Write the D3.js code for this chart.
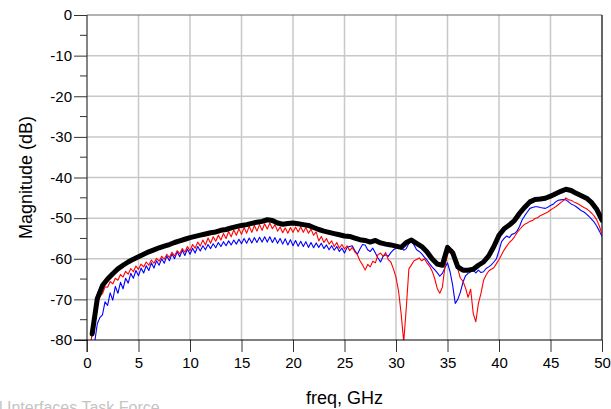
<!DOCTYPE html>
<html>
<head>
<meta charset="utf-8">
<script src="https://cdn.jsdelivr.net/npm/d3@7"></script>
<style>
  html, body { margin: 0; padding: 0; background: #fff; }
  svg { display: block; font-family: "Liberation Sans", Arial, sans-serif; }
</style>
</head>
<body>
<svg id="chart" width="611" height="409"></svg>
<script>
// ---- data ----
const xTicks = [0, 5, 10, 15, 20, 25, 30, 35, 40, 45, 50];
const yTicks = [0, -10, -20, -30, -40, -50, -60, -70, -80];
const yMinorTicks = [-5, -15, -25, -35, -45, -55, -65, -75];
const xLabel = "freq, GHz";
const yLabel = "Magnitude (dB)";
const footer = "l Interfaces Task Force";

// frequency grid of the thin traces (GHz), 0.25 GHz step
const freqFine = d3.range(1, 201).map(i => i * 0.25);
// frequency grid of the thick trace (GHz), 0.5 GHz step
const freqCoarse = d3.range(1, 101).map(i => i * 0.5);

const redValues = [
 -84,-78,-73.8,-71.2,-69.2,-68.6,-66.9,-67.0,-65.6,-66.2,
 -64.8,-65.3,-63.9,-64.5,-63.1,-63.8,-62.4,-63.2,-61.8,-62.6,
 -61.3,-62.0,-60.8,-61.6,-60.3,-61.1,-59.9,-60.6,-59.4,-60.1,
 -58.9,-59.7,-58.4,-59.3,-58.0,-58.8,-57.5,-58.4,-57.0,-58.0,
 -56.5,-57.4,-55.9,-56.9,-55.4,-56.6,-54.9,-56.2,-54.6,-55.7,
 -54.2,-55.4,-53.8,-55.0,-53.3,-54.6,-52.9,-54.2,-52.6,-54.0,
 -52.3,-53.7,-52.0,-53.5,-51.8,-53.2,-51.6,-53.0,-51.4,-52.7,
 -51.2,-52.6,-51.6,-53.2,-52.2,-53.6,-52.4,-53.7,-52.3,-53.5,
 -52.2,-53.4,-52.1,-53.5,-52.3,-53.7,-52.7,-54.2,-53.4,-55.6,
 -54.5,-56.0,-55.0,-56.4,-55.6,-57.0,-56.0,-57.4,-56.5,-57.6,
 -56.8,-58.0,-57.2,-58.3,-59.0,-60.5,-61.5,-62.8,-61.4,-62.0,
 -60.6,-61.0,-59.0,-58.6,-59.4,-58.5,-60.2,-60.8,-62.5,-64.6,
 -68.0,-73.5,-80.5,-72.0,-62.5,-61.5,-60.5,-60.2,-59.8,-60.5,
 -60.0,-61.0,-61.8,-63.0,-64.8,-67.3,-68.5,-67.0,-62.0,-59.0,
 -57.6,-57.8,-59.8,-62.5,-64.8,-65.5,-67.2,-69.5,-67.5,-73.5,
 -75.5,-71.0,-68.5,-65.3,-64.0,-63.0,-62.6,-62.2,-61.2,-60.2,
 -59.0,-57.8,-56.9,-56.0,-55.4,-54.6,-53.6,-52.8,-52.1,-51.5,
 -51.2,-50.8,-50.6,-50.1,-49.9,-49.4,-49.1,-48.8,-48.5,-48.0,
 -47.6,-47.2,-46.7,-46.2,-45.7,-45.0,-45.5,-45.6,-46.0,-46.3,
 -46.6,-47.0,-47.4,-47.7,-48.2,-48.8,-49.5,-50.5,-52.0,-54.0
];

const blueValues = [
 -86,-84,-80.5,-76.0,-74.5,-73.8,-70.6,-71.5,-68.4,-70.2,
 -66.8,-68.5,-65.8,-67.4,-64.8,-66.0,-63.6,-64.8,-62.9,-64.2,
 -62.3,-63.5,-61.7,-62.9,-61.0,-62.3,-60.5,-61.6,-60.0,-61.1,
 -59.3,-60.5,-58.8,-60.0,-58.3,-59.5,-57.9,-59.2,-57.6,-58.9,
 -57.4,-58.6,-57.0,-58.1,-56.8,-57.8,-56.5,-57.5,-56.3,-57.3,
 -56.0,-57.0,-55.8,-56.8,-55.6,-56.6,-55.4,-56.4,-55.2,-56.3,
 -55.0,-56.2,-54.9,-56.1,-54.8,-56.0,-54.7,-55.9,-54.6,-55.9,
 -54.6,-56.0,-54.8,-56.2,-55.0,-56.4,-55.1,-56.6,-55.3,-56.8,
 -55.5,-56.9,-55.7,-57.0,-55.8,-57.2,-56.0,-57.3,-56.1,-57.2,
 -56.2,-57.5,-56.6,-57.8,-56.8,-57.9,-57.0,-58.2,-57.4,-58.6,
 -57.2,-57.0,-56.8,-58.0,-58.9,-57.6,-56.5,-56.6,-57.8,-58.2,
 -57.4,-58.6,-59.8,-60.8,-59.4,-59.0,-59.4,-58.5,-57.8,-57.4,
 -56.8,-57.2,-57.9,-57.5,-56.2,-55.8,-56.6,-57.8,-58.2,-58.8,
 -59.6,-60.3,-61.2,-62.0,-62.7,-63.4,-64.3,-63.6,-62.2,-61.0,
 -63.2,-66.5,-71.0,-70.0,-68.2,-65.8,-64.2,-63.6,-63.2,-62.8,
 -63.5,-62.8,-63.4,-63.2,-62.4,-62.0,-61.5,-60.8,-60.0,-58.0,
 -55.8,-55.0,-54.4,-54.8,-54.0,-53.8,-53.2,-52.0,-50.4,-49.4,
 -48.5,-47.6,-47.4,-47.2,-47.2,-47.4,-47.5,-47.6,-47.3,-46.9,
 -46.6,-46.0,-45.6,-45.5,-45.4,-45.5,-46.0,-46.5,-46.8,-47.2,
 -47.7,-48.2,-48.5,-49.0,-49.6,-50.3,-51.0,-52.0,-53.2,-54.5
];

const blackValues = [
 -78.5,-69.8,-66.6,-65.0,-63.7,-62.5,-61.6,-60.8,-60.1,-59.5,
 -58.9,-58.3,-57.8,-57.3,-56.9,-56.5,-56.0,-55.6,-55.2,-54.8,
 -54.5,-54.2,-53.9,-53.6,-53.4,-53.0,-52.8,-52.4,-52.1,-51.8,
 -51.6,-51.3,-51.0,-50.8,-50.4,-50.6,-51.2,-51.5,-51.3,-51.2,
 -51.4,-51.6,-51.8,-52.3,-52.8,-53.2,-53.5,-53.8,-54.1,-54.4,
 -54.5,-54.9,-55.3,-55.5,-55.9,-55.5,-56.1,-56.4,-56.6,-56.9,
 -57.2,-56.0,-55.4,-56.2,-57.0,-58.3,-60.0,-61.3,-61.6,-57.2,
 -58.5,-62.0,-62.8,-62.8,-62.6,-61.6,-60.8,-59.3,-57.0,-54.2,
 -52.6,-51.7,-50.6,-48.8,-47.3,-46.0,-45.4,-45.3,-45.1,-44.6,
 -44.0,-43.4,-42.9,-43.2,-43.9,-44.5,-45.1,-46.2,-47.9,-50.5
];

// ---- layout ----
const svg = d3.select("#chart");
const mLeft = 87, mRight = 602, mTop = 15, mBottom = 340;

const x = d3.scaleLinear().domain([0, 50]).range([mLeft, mRight]);
const y = d3.scaleLinear().domain([-80, 0]).range([mBottom, mTop]);
const fmt = d => String(d);

// grid
const grid = svg.append("g");
grid.selectAll("line.gx").data(xTicks.slice(1, -1)).join("line")
  .attr("x1", d => x(d)).attr("x2", d => x(d))
  .attr("y1", mTop).attr("y2", mBottom)
  .attr("stroke", "#c8c8c8").attr("stroke-width", 1.5);
grid.selectAll("line.gy").data(yTicks.slice(1, -1)).join("line")
  .attr("x1", mLeft).attr("x2", mRight)
  .attr("y1", d => y(d)).attr("y2", d => y(d))
  .attr("stroke", "#c8c8c8").attr("stroke-width", 1.5);

// frame (top/right)
svg.append("line").attr("x1", mLeft).attr("x2", mRight).attr("y1", mTop).attr("y2", mTop)
  .attr("stroke", "#666").attr("stroke-width", 1);
svg.append("line").attr("x1", mRight).attr("x2", mRight).attr("y1", mTop).attr("y2", mBottom)
  .attr("stroke", "#333").attr("stroke-width", 1.5);

// clip
svg.append("defs").append("clipPath").attr("id", "plotclip")
  .append("rect").attr("x", mLeft).attr("y", mTop)
  .attr("width", mRight - mLeft).attr("height", mBottom - mTop);

const line = d3.line().x(d => x(d[0])).y(d => y(d[1]));
const plot = svg.append("g").attr("clip-path", "url(#plotclip)");

plot.append("path").datum(freqFine.map((f, i) => [f, blueValues[i]]))
  .attr("d", line).attr("fill", "none").attr("stroke", "#0000ff").attr("stroke-width", 1.1)
  .attr("stroke-linejoin", "round");
plot.append("path").datum(freqFine.map((f, i) => [f, redValues[i]]))
  .attr("d", line).attr("fill", "none").attr("stroke", "#ff0000").attr("stroke-width", 1.1)
  .attr("stroke-linejoin", "round");
plot.append("path").datum(freqCoarse.map((f, i) => [f, blackValues[i]]))
  .attr("d", line).attr("fill", "none").attr("stroke", "#000").attr("stroke-width", 5)
  .attr("stroke-linejoin", "round").attr("stroke-linecap", "round");

// axes
const yAxis = svg.append("g").attr("transform", `translate(${mLeft},0)`)
  .call(d3.axisLeft(y).tickValues(yTicks).tickSize(13).tickPadding(2).tickFormat(fmt));
yAxis.select(".domain").remove();
yAxis.selectAll(".tick line").attr("stroke", "#333");
yAxis.selectAll(".tick text").attr("font-size", 15).attr("fill", "#000")
  .attr("font-family", "'Liberation Sans', Arial, sans-serif");
svg.append("g").selectAll("line").data(yMinorTicks).join("line")
  .attr("x1", mLeft - 7).attr("x2", mLeft).attr("y1", d => y(d)).attr("y2", d => y(d))
  .attr("stroke", "#333");
svg.append("line").attr("x1", mLeft).attr("x2", mLeft).attr("y1", mTop).attr("y2", mBottom + 12)
  .attr("stroke", "#333").attr("stroke-width", 1.2);

const xAxis = svg.append("g").attr("transform", `translate(0,${mBottom})`)
  .call(d3.axisBottom(x).tickValues(xTicks).tickSize(12).tickPadding(5).tickFormat(fmt));
xAxis.select(".domain").remove();
xAxis.selectAll(".tick line").attr("stroke", "#333");
xAxis.selectAll(".tick text").attr("font-size", 15).attr("fill", "#000")
  .attr("font-family", "'Liberation Sans', Arial, sans-serif");
svg.append("line").attr("x1", mLeft - 13).attr("x2", mRight).attr("y1", mBottom).attr("y2", mBottom)
  .attr("stroke", "#000").attr("stroke-width", 1.2);

// titles
svg.append("text").attr("x", x(25)).attr("y", 404).attr("text-anchor", "middle")
  .attr("font-size", 18).text(xLabel);
svg.append("text").attr("transform", `translate(32,${(mTop + mBottom) / 2}) rotate(-90)`)
  .attr("text-anchor", "middle").attr("font-size", 18).text(yLabel);

// footer watermark (partly outside the picture in the reference too)
svg.append("text").attr("x", -1).attr("y", 413).attr("font-size", 16)
  .attr("fill", "#c4c4c4").text(footer);
</script>
</body>
</html>
